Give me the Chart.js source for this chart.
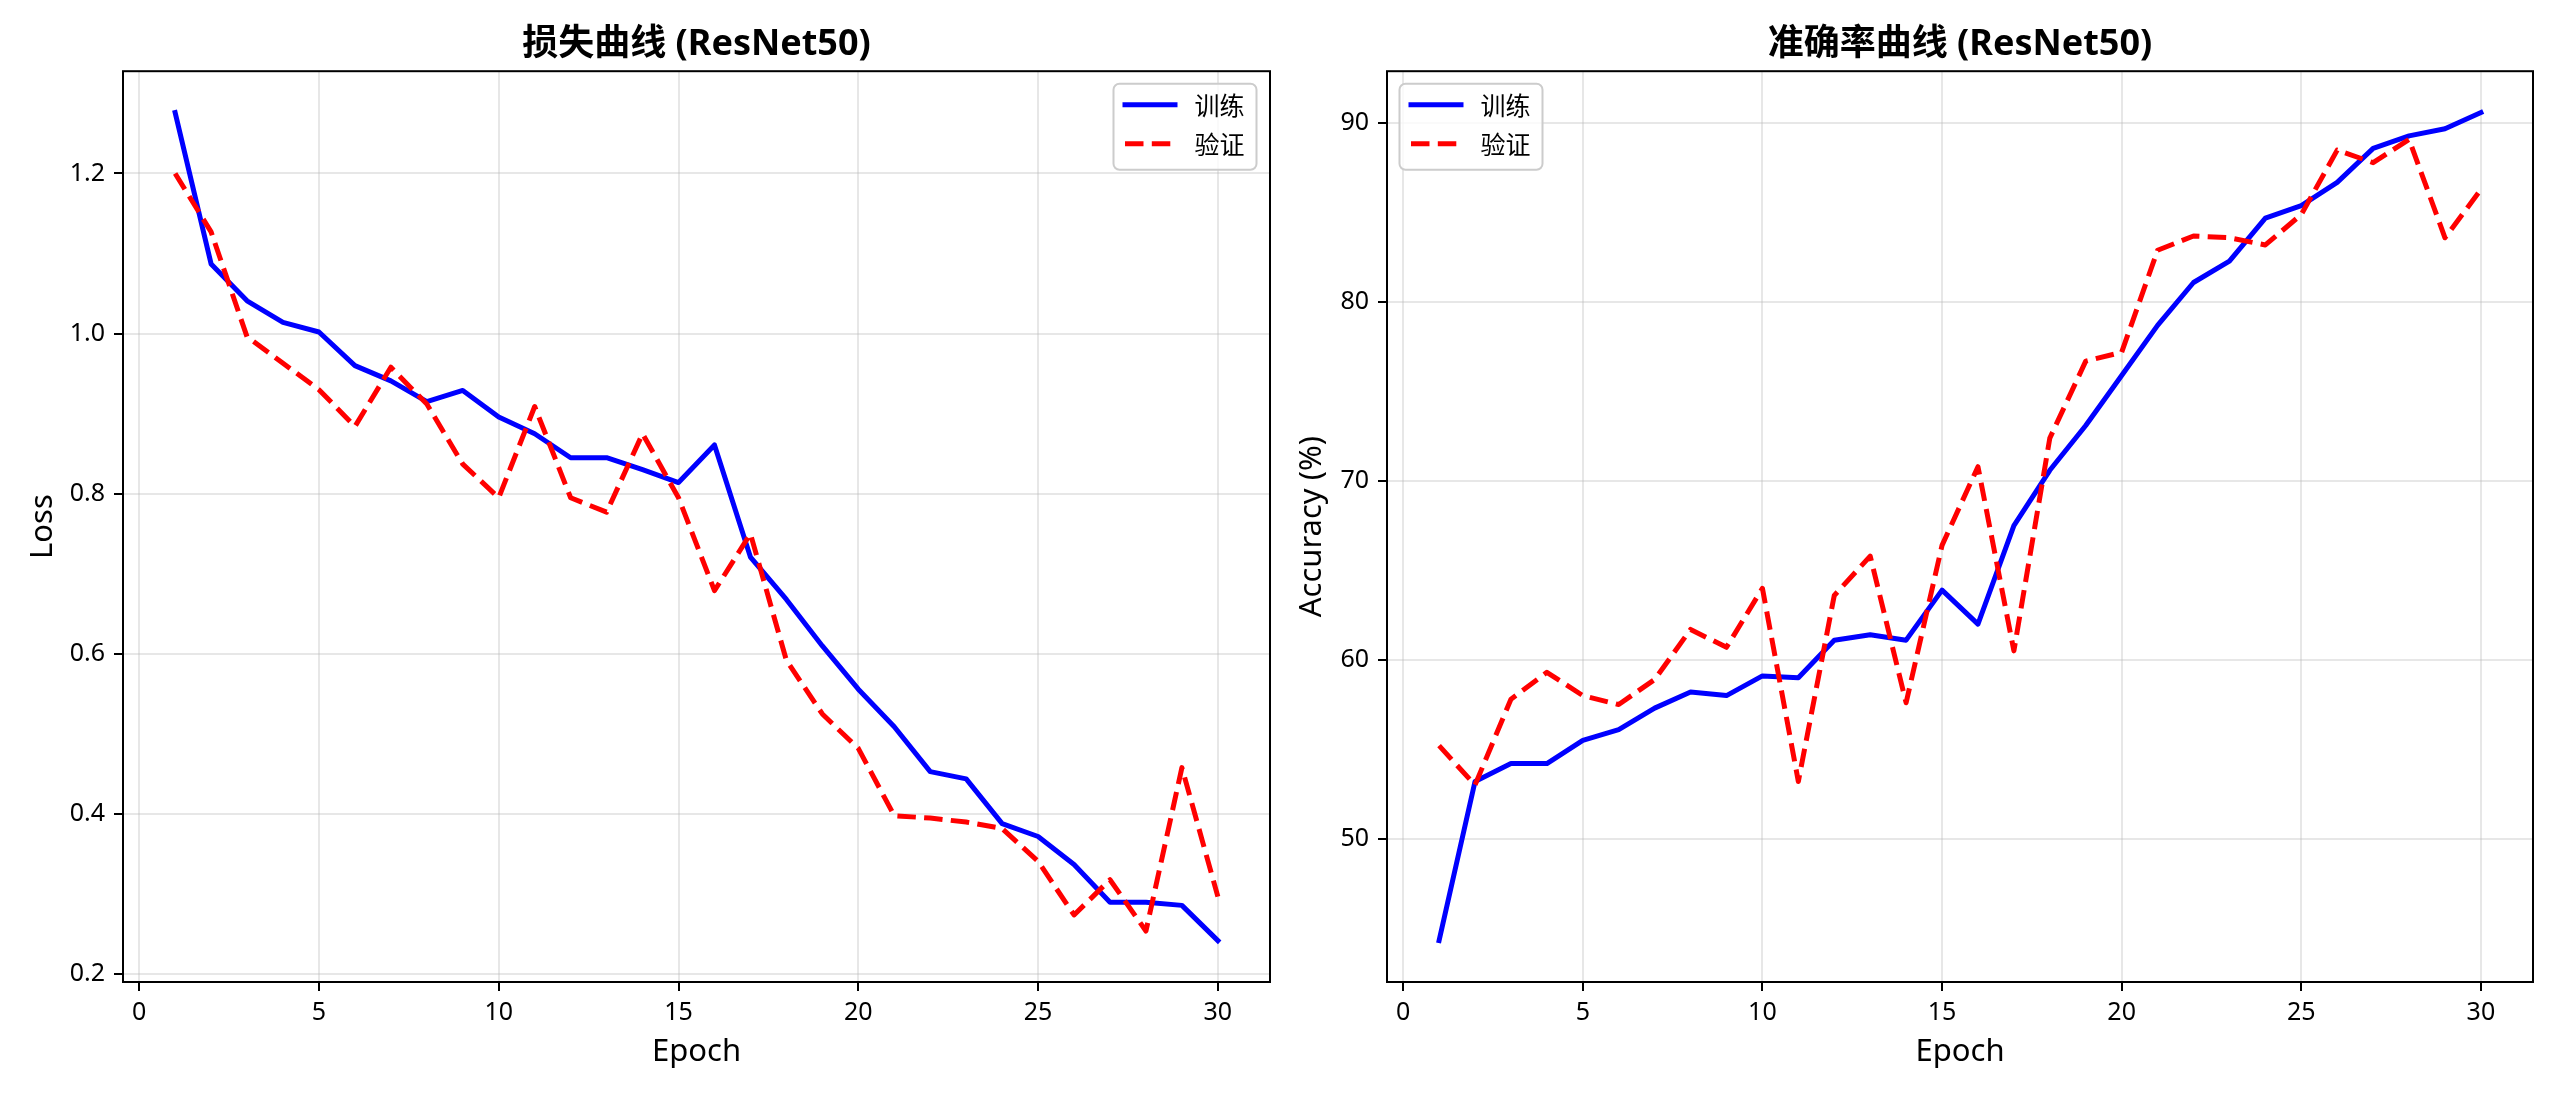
<!DOCTYPE html>
<html>
<head>
<meta charset="utf-8">
<title>ResNet50 训练曲线</title>
<script src="https://cdn.jsdelivr.net/npm/chart.js@4.4.1/dist/chart.umd.min.js"></script>
<style>
  html, body { margin: 0; padding: 0; background: #fff; overflow: hidden; }
  .box { position: absolute; top: 0; }
  #lossBox { left: 0; width: 1280px; height: 1097px; }
  #accBox { left: 1280px; width: 1280px; height: 1097px; }
</style>
</head>
<body>
<div class="box" id="lossBox"><canvas id="lossChart" width="1280" height="1097"></canvas></div>
<div class="box" id="accBox"><canvas id="accChart" width="1280" height="1097"></canvas></div>
<script>
// epochs and series
const epochs = [1, 2, 3, 4, 5, 6, 7, 8, 9, 10, 11, 12, 13, 14, 15,
                16, 17, 18, 19, 20, 21, 22, 23, 24, 25, 26, 27, 28, 29, 30];

const lossTrain = [1.276, 1.087, 1.041, 1.014, 1.002, 0.960, 0.941, 0.915, 0.929, 0.896,
                   0.875, 0.845, 0.845, 0.830, 0.814, 0.861, 0.721, 0.668, 0.610, 0.556,
                   0.509, 0.453, 0.444, 0.388, 0.372, 0.337, 0.290, 0.290, 0.286, 0.242];
const lossVal = [1.200, 1.127, 0.996, 0.963, 0.930, 0.884, 0.958, 0.912, 0.837, 0.795,
                 0.909, 0.795, 0.777, 0.875, 0.795, 0.679, 0.750, 0.592, 0.525, 0.482,
                 0.398, 0.395, 0.390, 0.382, 0.341, 0.274, 0.318, 0.254, 0.458, 0.297];

const accTrain = [44.3, 53.2, 54.2, 54.2, 55.5, 56.1, 57.3, 58.2, 58.0, 59.1,
                  59.0, 61.1, 61.4, 61.1, 63.9, 62.0, 67.5, 70.6, 73.1, 75.9,
                  78.7, 81.1, 82.3, 84.7, 85.4, 86.7, 88.6, 89.3, 89.7, 90.6];
const accVal = [55.2, 53.0, 57.8, 59.3, 58.0, 57.5, 58.9, 61.7, 60.7, 64.0,
                53.2, 63.6, 65.8, 57.6, 66.4, 70.8, 60.5, 72.4, 76.7, 77.2,
                82.9, 83.7, 83.6, 83.2, 84.9, 88.5, 87.8, 89.1, 83.6, 86.3];

const xTicks = [0, 5, 10, 15, 20, 25, 30];
const lossTicks = [0.2, 0.4, 0.6, 0.8, 1.0, 1.2];
const accTicks = [50, 60, 70, 80, 90];

const seriesLabels = ["训练", "验证"];

const LATIN = "'Noto Sans', 'Noto Sans CJK SC', sans-serif";
const CJK = "'Noto Sans CJK SC', 'Noto Sans', sans-serif";

function points(ys) {
  return epochs.map((e, i) => ({ x: e, y: ys[i] }));
}

// matplotlib-like 5% margins
function range(arrs) {
  var all = [].concat.apply([], arrs);
  var lo = Math.min.apply(null, all), hi = Math.max.apply(null, all);
  var pad = (hi - lo) * 0.05;
  return { min: lo - pad, max: hi + pad };
}

// frame + legend box inside the axes
const framePlugin = {
  id: "frame",
  afterLayout(chart) {
    // centre the title above the plot area, like matplotlib
    if (chart.titleBlock) {
      chart.titleBlock.left = chart.chartArea.left;
      chart.titleBlock.right = chart.chartArea.right;
    }
  },
  afterDatasetsDraw(chart) {
    var ctx = chart.ctx, a = chart.chartArea;
    ctx.save();
    ctx.strokeStyle = "#000";
    ctx.lineWidth = 2;
    ctx.strokeRect(a.left, a.top, a.right - a.left, a.bottom - a.top);

    var where = chart.options.plugins.frame.legend;
    var w = 143, h = 86;
    var x = where === "right" ? a.right - 13.5 - w : a.left + 12.5;
    var y = a.top + 12.5;
    ctx.beginPath();
    ctx.roundRect(x, y, w, h, 6);
    ctx.fillStyle = "rgba(255,255,255,0.8)";
    ctx.fill();
    ctx.strokeStyle = "#cccccc";
    ctx.lineWidth = 2;
    ctx.stroke();

    chart.data.datasets.forEach(function (ds, i) {
      var ly = y + 21 + i * 39;
      ctx.beginPath();
      ctx.strokeStyle = ds.borderColor;
      ctx.lineWidth = ds.borderWidth;
      ctx.lineCap = ds.borderCapStyle;
      ctx.setLineDash(ds.borderDash || []);
      ctx.moveTo(x + 11.5, ly);
      ctx.lineTo(x + 61.5, ly);
      ctx.stroke();
      ctx.setLineDash([]);
      ctx.fillStyle = "#000";
      ctx.font = "25px " + CJK;
      ctx.textBaseline = "middle";
      ctx.textAlign = "left";
      ctx.fillText(ds.label, x + 81, ly + 1);
    });
    ctx.restore();
  }
};

function makeChart(id, opts) {
  var yr = range([opts.train, opts.val]);
  var xr = range([epochs]);
  return new Chart(document.getElementById(id), {
    type: "line",
    data: {
      datasets: [
        {
          label: seriesLabels[0],
          data: points(opts.train),
          borderColor: "#0000ff",
          borderWidth: 5,
          borderCapStyle: "square",
          borderJoinStyle: "round",
          pointRadius: 0,
          tension: 0,
          order: 1
        },
        {
          label: seriesLabels[1],
          data: points(opts.val),
          borderColor: "#ff0000",
          borderWidth: 5,
          borderDash: [18.5, 8.3],
          borderCapStyle: "butt",
          borderJoinStyle: "round",
          pointRadius: 0,
          tension: 0,
          order: 0
        }
      ]
    },
    options: {
      responsive: false,
      animation: false,
      devicePixelRatio: 1,
      layout: { padding: { left: 0, right: opts.rightPad, top: 0, bottom: 0 } },
      plugins: {
        legend: { display: false },
        tooltip: { enabled: false },
        frame: { legend: opts.legend },
        title: {
          display: true,
          text: opts.title,
          color: "#000",
          font: { family: LATIN, size: 36, weight: "bold", lineHeight: 1.2 },
          padding: { top: 23, bottom: 5 }
        }
      },
      scales: {
        x: {
          type: "linear",
          min: xr.min,
          max: xr.max,
          afterBuildTicks: function (s) { s.ticks = xTicks.map(v => ({ value: v })); },
          afterFit: function (s) { s.height = 115; },
          ticks: {
            color: "#000",
            font: { family: LATIN, size: 25 },
            padding: 7,
            maxRotation: 0,
            callback: v => String(v)
          },
          grid: {
            color: "rgba(176,176,176,0.3)",
            lineWidth: 2,
            tickColor: "#000",
            tickWidth: 2,
            tickLength: 9
          },
          border: { display: false },
          title: {
            display: true,
            text: "Epoch",
            color: "#000",
            font: { family: LATIN, size: 31, lineHeight: 1.2 },
            padding: { top: 0, bottom: 26 }
          }
        },
        y: {
          type: "linear",
          min: yr.min,
          max: yr.max,
          afterBuildTicks: function (s) { s.ticks = opts.yTicks.map(v => ({ value: v })); },
          afterFit: function (s) { s.width = opts.yWidth; },
          ticks: {
            color: "#000",
            font: { family: LATIN, size: 25 },
            padding: 9,
            callback: opts.fmt
          },
          grid: {
            color: "rgba(176,176,176,0.3)",
            lineWidth: 2,
            tickColor: "#000",
            tickWidth: 2,
            tickLength: 9
          },
          border: { display: false },
          title: {
            display: true,
            text: opts.yTitle,
            color: "#000",
            font: { family: LATIN, size: 31, lineHeight: 1.2 },
            padding: { top: opts.yTitlePad, bottom: 0 }
          }
        }
      }
    },
    plugins: [framePlugin]
  });
}

makeChart("lossChart", {
  title: "损失曲线 (ResNet50)",
  yTitle: "Loss",
  train: lossTrain,
  val: lossVal,
  yTicks: lossTicks,
  fmt: v => v.toFixed(1),
  yWidth: 123,
  yTitlePad: 25,
  rightPad: 10,
  legend: "right"
});

makeChart("accChart", {
  title: "准确率曲线 (ResNet50)",
  yTitle: "Accuracy (%)",
  train: accTrain,
  val: accVal,
  yTicks: accTicks,
  fmt: v => String(v),
  yWidth: 107,
  yTitlePad: 14,
  rightPad: 27,
  legend: "left"
});
</script>
</body>
</html>
